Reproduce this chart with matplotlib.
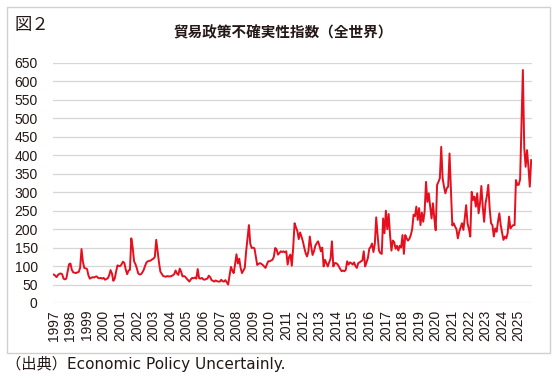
import matplotlib
matplotlib.use("Agg")
import matplotlib.pyplot as plt
import numpy as np
from matplotlib.patches import Rectangle

plt.rcParams['font.family'] = ['Liberation Sans', 'Noto Sans CJK JP']

years = list(range(1997, 2026))
# monthly values per year (Jan..Dec)
v1997 = [77, 74, 70, 76, 79, 80, 78, 66, 64, 66, 85, 105]
v1998 = [107, 90, 83, 82, 81, 83, 84, 95, 146, 112, 95, 94]
v1999 = [92, 75, 66, 68, 70, 69, 71, 72, 68, 67, 68, 66]
v2000 = [68, 63, 65, 67, 75, 89, 80, 60, 66, 85, 102, 100]
v2001 = [100, 105, 112, 108, 90, 78, 88, 90, 175, 150, 113, 105]
v2002 = [94, 80, 77, 78, 83, 90, 101, 110, 113, 114, 115, 118]
v2003 = [120, 125, 171, 140, 110, 85, 79, 73, 72, 71, 73, 72]
v2004 = [72, 73, 75, 78, 88, 80, 76, 93, 85, 72, 73, 71]
v2005 = [66, 62, 58, 64, 68, 67, 69, 66, 92, 67, 66, 68]
v2006 = [64, 63, 65, 66, 74, 70, 62, 60, 58, 61, 59, 58]
v2007 = [58, 63, 59, 58, 62, 56, 50, 75, 98, 88, 81, 105]
v2008 = [132, 107, 120, 95, 81, 88, 95, 140, 175, 211, 160, 149]
v2009 = [150, 148, 125, 103, 106, 108, 106, 103, 99, 95, 105, 113]
v2010 = [113, 115, 117, 125, 149, 145, 131, 135, 140, 138, 140, 137]
v2011 = [140, 104, 125, 131, 101, 150, 216, 205, 195, 173, 191, 180]
v2012 = [167, 150, 135, 126, 140, 180, 153, 130, 140, 155, 162, 167]
v2013 = [155, 140, 150, 99, 117, 108, 99, 110, 120, 167, 99, 108]
v2014 = [108, 105, 99, 92, 86, 88, 86, 90, 113, 104, 110, 108]
v2015 = [104, 110, 100, 95, 108, 110, 113, 115, 140, 99, 110, 122]
v2016 = [147, 152, 161, 138, 160, 232, 184, 142, 135, 133, 229, 189]
v2017 = [250, 200, 241, 184, 142, 169, 165, 147, 155, 142, 155, 150]
v2018 = [184, 133, 184, 175, 169, 174, 184, 200, 239, 235, 261, 225]
v2019 = [257, 211, 245, 220, 248, 328, 274, 297, 261, 229, 270, 229]
v2020 = [197, 320, 328, 338, 423, 338, 315, 297, 311, 315, 405, 311]
v2021 = [210, 216, 207, 200, 175, 193, 205, 216, 198, 230, 265, 216]
v2022 = [200, 180, 301, 279, 288, 261, 297, 243, 270, 317, 261, 220]
v2023 = [270, 290, 320, 256, 216, 211, 180, 202, 193, 220, 243, 211]
v2024 = [190, 171, 180, 175, 189, 234, 202, 207, 211, 211, 333, 320]
v2025 = [320, 335, 480, 631, 420, 369, 414, 369, 315, 387]

yearly = [v1997, v1998, v1999, v2000, v2001, v2002, v2003, v2004, v2005, v2006,
          v2007, v2008, v2009, v2010, v2011, v2012, v2013, v2014, v2015, v2016,
          v2017, v2018, v2019, v2020, v2021, v2022, v2023, v2024, v2025]
values = [v for yr in yearly for v in yr]
x = np.arange(len(values))

yticks = list(range(0, 651, 50))
title = "貿易政策不確実性指数（全世界）"
fig_label = "図２"
source = "（出典）Economic Policy Uncertainly."

fig = plt.figure(figsize=(5.57, 3.78), dpi=100)
W, H = 557, 378
ax = fig.add_axes([53/W, 1-303/H, (532-53)/W, (303-63)/H])

ax.plot(x, values, color='#e60f1e', linewidth=1.4, solid_joinstyle='round')
ax.set_ylim(0, 650)
ax.set_xlim(-0.6, 345.6)
ax.set_yticks(yticks)
ax.set_yticklabels([str(t) for t in yticks], fontsize=10, color='#231815')
ax.set_xticks([(y - 1997) * 12 for y in years])
ax.set_xticklabels([str(y) for y in years], rotation=90, fontsize=10, color='#231815')
ax.tick_params(axis='both', length=0)
ax.tick_params(axis='y', pad=11)
ax.tick_params(axis='x', pad=5)
ax.grid(axis='y', color='#d6d6d6', linewidth=0.9)
ax.set_axisbelow(True)
for s in ax.spines.values():
    s.set_visible(False)

fig.patches.append(Rectangle((7/W, 1-353/H), (550-7)/W, (353-7)/H, transform=fig.transFigure,
                             fill=False, edgecolor='#d0d0d0', linewidth=1.0))

fig.text(15/W, 1-25/H, fig_label, fontsize=12.5, va='center', ha='left', color='#231815',
         family=['Noto Sans CJK JP'])
fig.text(283/W, 1-32/H, title, fontsize=10.5, va='center', ha='center', color='#231815',
         family=['Noto Sans CJK JP'], fontweight='bold')
fig.text(6/W, 1-364/H, source, fontsize=11, va='center', ha='left', color='#231815',
         family=['DejaVu Sans', 'Noto Sans CJK JP'])

fig.savefig('out.png', dpi=100)
